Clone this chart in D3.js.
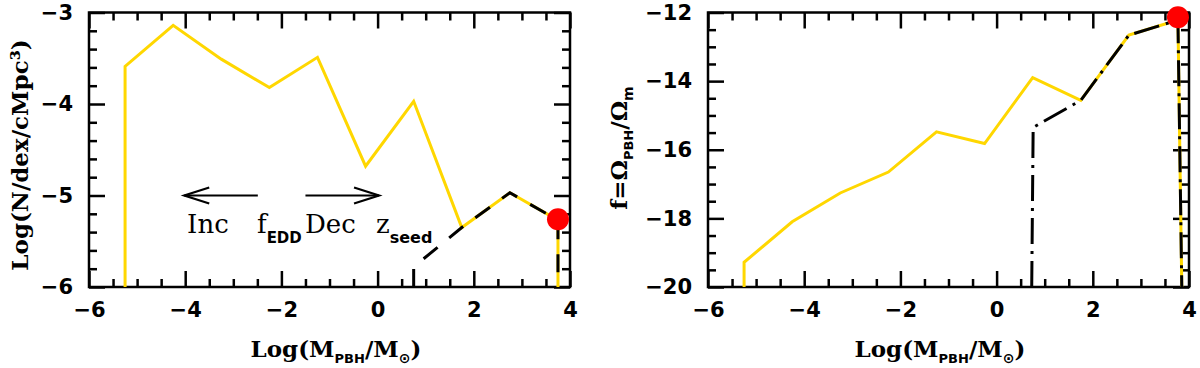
<!DOCTYPE html>
<html><head><meta charset="utf-8">
<script src="https://cdn.jsdelivr.net/npm/d3@7"></script>
<style>body{margin:0;background:#fff}svg{display:block}</style>
</head><body>
<svg id="c" width="1200" height="368"></svg>
<script>
// ---- data ----
const massX = [-5.25, -5.25, -4.25, -3.25, -2.25, -1.25, -0.25, 0.75, 1.75, 2.75, 3.75, 3.75];
const leftYellowY = [-6, -3.59, -3.14, -3.51, -3.82, -3.49, -4.68, -3.97, -5.35, -4.97, -5.27, -6];
const leftBlackX = [0.75, 0.75, 1.75, 2.75, 3.75, 3.75];
const leftBlackY = [-6, -5.78, -5.35, -4.97, -5.27, -6];
const leftDot = [3.75, -5.26];

const rightYellowX = [-5.25, -5.25, -4.25, -3.25, -2.25, -1.25, -0.25, 0.75, 1.75, 2.75, 3.77, 3.85];
const rightYellowY = [-20, -19.28, -18.10, -17.26, -16.65, -15.48, -15.82, -13.90, -14.56, -12.66, -12.22, -20];
const rightBlackX = [0.73, 0.76, 1.75, 2.75, 3.77, 3.85];
const rightBlackY = [-20, -15.35, -14.56, -12.66, -12.22, -20];
const rightDot = [3.77, -12.14];

const xDomain = [-6, 4];
const xMajorTicks = [-6, -4, -2, 0, 2, 4];
const leftYDomain = [-6, -3];
const leftYMajorTicks = [-6, -5, -4, -3];
const rightYDomain = [-20, -12];
const rightYMajorTicks = [-20, -18, -16, -14, -12];

const YELLOW = "#FFD700", RED = "#FF0000";

const svg = d3.select("#c");

const xL = d3.scaleLinear(xDomain, [89, 570]);
const yL = d3.scaleLinear(leftYDomain, [287, 12.5]);
const xR = d3.scaleLinear(xDomain, [708, 1189]);
const yR = d3.scaleLinear(rightYDomain, [287, 12.5]);

function isMajor(v, step) { const r = v / step; return Math.abs(r - Math.round(r)) < 1e-6; }

function drawAxes(x, y, xMajor, xStep, yMajor, yMinorStep, yMajorStep) {
  const g = svg.append("g");
  const xMinor = d3.range(xDomain[0], xDomain[1] + 1e-9, 0.5).filter(v => !isMajor(v, xStep));
  const yd = y.domain();
  const yMinor = d3.range(0, Math.round((yd[1] - yd[0]) / yMinorStep) + 1)
    .map(i => yd[0] + i * yMinorStep).filter(v => !isMajor(v, yMajorStep));
  const [r0, r1] = x.range(), [b, t] = y.range();
  const add = (axis, tr) => {
    const a = g.append("g").attr("transform", tr).call(axis);
    a.select(".domain").remove();
    a.selectAll("line").attr("stroke", "#000").attr("stroke-width", 2.5);
    return a;
  };
  // minor
  add(d3.axisBottom(x).tickValues(xMinor).tickSize(-8).tickFormat(""), `translate(0,${b})`);
  add(d3.axisTop(x).tickValues(xMinor).tickSize(-8).tickFormat(""), `translate(0,${t})`);
  add(d3.axisLeft(y).tickValues(yMinor).tickSize(-8).tickFormat(""), `translate(${r0},0)`);
  add(d3.axisRight(y).tickValues(yMinor).tickSize(-8).tickFormat(""), `translate(${r1},0)`);
  // major
  const bx = add(d3.axisBottom(x).tickValues(xMajor).tickSize(-16).tickPadding(15).tickFormat(d3.format("d")), `translate(0,${b})`);
  add(d3.axisTop(x).tickValues(xMajor).tickSize(-16).tickFormat(""), `translate(0,${t})`);
  const ly = add(d3.axisLeft(y).tickValues(yMajor).tickSize(-16).tickPadding(16).tickFormat(d3.format("d")), `translate(${r0},0)`);
  add(d3.axisRight(y).tickValues(yMajor).tickSize(-16).tickFormat(""), `translate(${r1},0)`);
  [bx, ly].forEach(a => a.selectAll("text")
    .attr("fill", "#000").style("font-family", "'DejaVu Sans'").style("font-weight", "bold").style("font-size", "21px"));
  // frame
  g.append("rect").attr("x", r0).attr("y", t).attr("width", r1 - r0).attr("height", b - t)
    .attr("fill", "none").attr("stroke", "#000").attr("stroke-width", 2.5);
}

drawAxes(xL, yL, xMajorTicks, 2, leftYMajorTicks, 0.2, 1);
drawAxes(xR, yR, xMajorTicks, 2, rightYMajorTicks, 0.5, 2);

function drawLine(x, y, xs, ys, color, dash) {
  const line = d3.line().x(d => x(d[0])).y(d => y(d[1]));
  const p = svg.append("path").datum(d3.zip(xs, ys)).attr("d", line)
    .attr("fill", "none").attr("stroke", color).attr("stroke-width", 3).attr("stroke-linejoin", "miter");
  if (dash) p.attr("stroke-dasharray", dash);
}

drawLine(xL, yL, massX, leftYellowY, YELLOW);
drawLine(xL, yL, leftBlackX, leftBlackY, "#000", "18,15");
svg.append("circle").attr("cx", xL(leftDot[0])).attr("cy", yL(leftDot[1])).attr("r", 11).attr("fill", RED);

drawLine(xR, yR, rightYellowX, rightYellowY, YELLOW);
drawLine(xR, yR, rightBlackX, rightBlackY, "#000", "26,7,3,7");
svg.append("circle").attr("cx", xR(rightDot[0])).attr("cy", yR(rightDot[1])).attr("r", 11).attr("fill", RED);

// annotation arrows
function arrow(xa, xb, yv) {
  const X0 = xL(xa), X1 = xL(xb), Y = yL(yv);
  const dir = Math.sign(X1 - X0);
  const g = svg.append("g").attr("stroke", "#000").attr("stroke-width", 2.2).attr("fill", "none");
  g.append("line").attr("x1", X0).attr("x2", X1).attr("y1", Y).attr("y2", Y);
  g.append("path").attr("d", `M${X1 - dir * 25},${Y - 8}L${X1},${Y}L${X1 - dir * 25},${Y + 8}`);
}
arrow(-2.49, -4.02, -5.0);
arrow(-1.5, 0.03, -5.0);

const ann = svg.append("text").attr("y", 233).attr("x", xL(-3.96))
  .style("font-family", "'DejaVu Serif'").style("font-size", "26px").attr("fill", "#000");
ann.append("tspan").text("Inc");
ann.append("tspan").attr("x", 257).text("f");
ann.append("tspan").attr("dy", 10).style("font-family", "'DejaVu Sans'").style("font-weight", "bold").style("font-size", "15px").text("EDD");
ann.append("tspan").attr("x", 305).attr("dy", -10).text("Dec");
ann.append("tspan").attr("x", 376).text("z");
ann.append("tspan").attr("dy", 10).style("font-family", "'DejaVu Sans'").style("font-weight", "bold").style("font-size", "16px").text("seed");

// axis labels
function xLabel(cx) {
  const t = svg.append("text").attr("x", cx).attr("y", 357).attr("text-anchor", "middle")
    .style("font-family", "'DejaVu Serif'").style("font-weight", "bold").style("font-size", "23px").attr("fill", "#000");
  t.append("tspan").text("Log(M");
  t.append("tspan").attr("dy", 6).style("font-family", "'DejaVu Sans'").style("font-size", "13px").text("PBH");
  t.append("tspan").attr("dy", -6).text("/M");
  t.append("tspan").attr("dy", 6).style("font-family", "'DejaVu Sans'").style("font-size", "14px").text("\u2299");
  t.append("tspan").attr("dy", -6).text(")");
}
xLabel(336);
xLabel(940);

svg.append("text").attr("transform", "translate(28,155) rotate(-90)").attr("text-anchor", "middle")
  .style("font-family", "'DejaVu Serif'").style("font-weight", "bold").style("font-size", "23px").attr("fill", "#000")
  .text("Log(N/dex/cMpc\u00B3)");

const ry = svg.append("text").attr("transform", "translate(627,148) rotate(-90)").attr("text-anchor", "middle")
  .style("font-family", "'DejaVu Serif'").style("font-weight", "bold").style("font-size", "23px").attr("fill", "#000");
ry.append("tspan").text("f=\u03A9");
ry.append("tspan").attr("dy", 6).style("font-family", "'DejaVu Sans'").style("font-size", "13px").text("PBH");
ry.append("tspan").attr("dy", -6).text("/\u03A9");
ry.append("tspan").attr("dy", 6).style("font-family", "'DejaVu Sans'").style("font-size", "14px").text("m");
</script>
</body></html>
